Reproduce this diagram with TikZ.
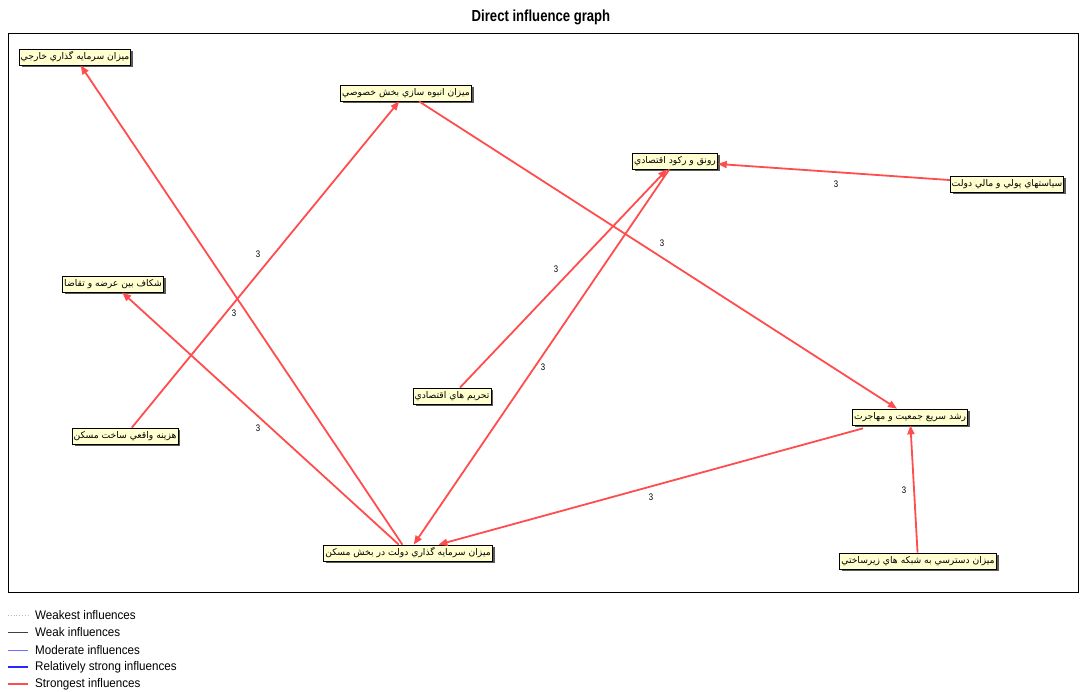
\documentclass[tikz,border=0pt]{standalone}
\usepackage{fontspec}
\usetikzlibrary{arrows.meta,shadows,calc}
\TeXXeTstate=1
\setmainfont{Liberation Sans}
\newfontfamily\arabicfont[Script=Arabic]{DejaVu Sans}
\newfontfamily\latfont[FakeStretch=0.82]{Liberation Sans}
\newfontfamily\legfont[FakeStretch=0.93]{Liberation Sans}
\definecolor{nodefill}{RGB}{255,255,208}
\definecolor{shadowgray}{RGB}{90,90,90}
\definecolor{infred}{RGB}{255,77,77}
\definecolor{modblue}{RGB}{110,110,255}
\definecolor{strblue}{RGB}{40,40,255}
\tikzset{
  fac/.style={draw=black, line width=0.7pt, fill=nodefill, inner sep=1.5pt,
    minimum height=16pt, font=\arabicfont\fontsize{9.2}{10}\selectfont,
    drop shadow={shadow xshift=2.5pt, shadow yshift=-2.5pt, fill=shadowgray, opacity=1}},
  infl/.style={draw=infred, line width=1.8pt, -{Triangle[length=9pt,width=7pt]}},
  lab/.style={font=\latfont\fontsize{9.5}{10}\selectfont, inner sep=0pt},
  legtext/.style={font=\legfont\fontsize{12.5}{13}\selectfont, inner sep=0pt, anchor=west},
}
\begin{document}
\begin{tikzpicture}[x=1pt,y=-1pt]
\useasboundingbox (0,0) rectangle (1080,692);
\node[font=\latfont\bfseries\fontsize{16}{18}\selectfont] (title) at (541,17) {Direct influence graph};
\draw[line width=0.8pt] (8,33) rectangle (1078,592);

\node[fac] (n1) at (75,57) {\beginR ميزان سرمايه گذاري خارجي\endR};
\node[fac] (n2) at (406,93) {\beginR ميزان انبوه سازي بخش خصوصي\endR};
\node[fac] (n3) at (675,161) {\beginR رونق و ركود اقتصادي\endR};
\node[fac] (n4) at (1007,184) {\beginR سياستهاي پولي و مالي دولت\endR};
\node[fac] (n5) at (113,284) {\beginR شكاف بين عرضه و تقاضا\endR};
\node[fac] (n6) at (452,396) {\beginR تحريم هاي اقتصادي\endR};
\node[fac] (n7) at (910,417) {\beginR رشد سريع جمعيت و مهاجرت\endR};
\node[fac] (n8) at (125,436) {\beginR هزينه واقعي ساخت مسكن\endR};
\node[fac] (n9) at (408,553) {\beginR ميزان سرمايه گذاري دولت در بخش مسكن\endR};
\node[fac] (n10) at (918,561) {\beginR ميزان دسترسي به شبكه هاي زيرساختي\endR};

\coordinate (n7out) at ($(n7.south)+(-47,3)$);

\draw[infl] (n9) -- (n1);
\draw[infl] (n9) -- (n5);
\draw[infl] (n8) -- (n2);
\draw[infl] (n2) -- (n7);
\draw[infl] (n6) -- (n3);
\draw[infl] (n3) -- (n9);
\draw[infl] (n7out) -- (n9);
\draw[infl] (n10) -- (n7);
\draw[infl] (n4) -- (n3);

\node[lab] (l1) at (234,313) {3};
\node[lab] (l2) at (258,254) {3};
\node[lab] (l3) at (258,428) {3};
\node[lab] (l4) at (662,243) {3};
\node[lab] (l5) at (556,269) {3};
\node[lab] (l6) at (543,367) {3};
\node[lab] (l7) at (836,184) {3};
\node[lab] (l8) at (651,497) {3};
\node[lab] (l9) at (904,490) {3};

\draw[gray!50, dotted, line width=0.8pt] (8,615) -- (28,615);
\draw[black!75, line width=0.9pt] (8,632) -- (28,632);
\draw[modblue, line width=1pt] (8,650) -- (28,650);
\draw[strblue, line width=2pt] (8,667) -- (28,667);
\draw[infred, line width=2.6pt] (8,684) -- (28,684);
\node[legtext] (g1) at (35,615) {Weakest influences};
\node[legtext] (g2) at (35,632) {Weak influences};
\node[legtext] (g3) at (35,650) {Moderate influences};
\node[legtext] (g4) at (35,667) {Relatively strong influences};
\node[legtext] (g5) at (35,684) {Strongest influences};
\end{tikzpicture}
\end{document}
